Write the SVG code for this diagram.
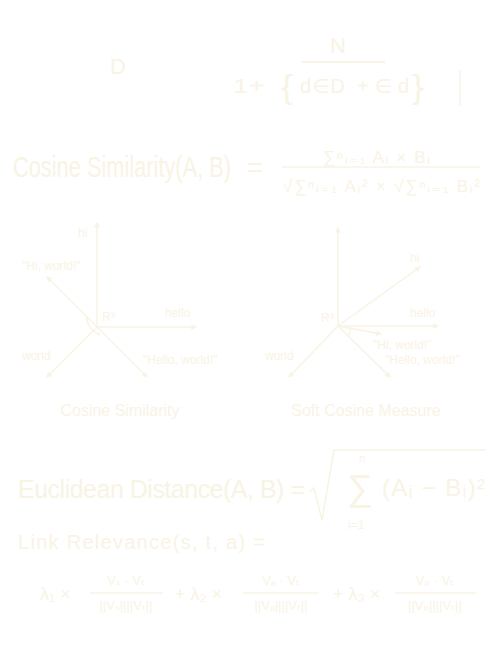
<svg xmlns="http://www.w3.org/2000/svg" width="500" height="650" viewBox="0 0 500 650">
<style>
text{font-family:"Liberation Sans","DejaVu Sans",sans-serif;fill:#f9f3e4}
.ln{stroke:#f9f3e4;stroke-width:2;fill:none}
.th{stroke:#f9f3e4;stroke-width:1.5;fill:none}
.lab{font-size:12px}
.cap{font-size:16px}
</style>
<defs>
<marker id="ah" viewBox="0 0 10 10" refX="8" refY="5" markerWidth="6" markerHeight="6" orient="auto" markerUnits="userSpaceOnUse">
<path d="M0,0 L10,5 L0,10 z" fill="#f9f3e4"/>
</marker>
</defs>
<rect width="500" height="650" fill="#ffffff"/>

<g id="idf">
<text x="110" y="74" font-size="22">D</text>
<text x="330" y="53" font-size="22">N</text>
<line x1="302" y1="62" x2="385" y2="62" class="ln" stroke-width="3"/>
<text x="233" y="93" font-size="20" textLength="32" lengthAdjust="spacingAndGlyphs">1+</text>
<text x="281" y="98" font-size="34" textLength="12" lengthAdjust="spacingAndGlyphs">{</text>
<text x="300" y="93" font-size="20" textLength="45" lengthAdjust="spacing">d ∈ D</text>
<text x="357" y="93" font-size="20" textLength="52" lengthAdjust="spacing">+ ∈ d</text>
<text x="412" y="98" font-size="34" textLength="12" lengthAdjust="spacingAndGlyphs">}</text>
<line x1="460" y1="70" x2="460" y2="106" class="th"/>
</g>

<g id="cosine-formula">
<text transform="translate(13,177) scale(0.727,1)" font-size="30">Cosine Similarity(A, B)</text>
<text x="247" y="177" font-size="28">=</text>
<text x="323" y="163" font-size="17" textLength="107" lengthAdjust="spacing">∑ⁿᵢ₌₁ Aᵢ × Bᵢ</text>
<line x1="282" y1="167" x2="480" y2="167" class="th"/>
<text x="283" y="192" font-size="17" textLength="197" lengthAdjust="spacing">√∑ⁿᵢ₌₁ Aᵢ² × √∑ⁿᵢ₌₁ Bᵢ²</text>
</g>

<g id="cosine-diagram">
<g class="connectors">
<line x1="97" y1="327" x2="97" y2="223" class="th" marker-end="url(#ah)"/>
<line x1="97" y1="327" x2="196" y2="327" class="th" marker-end="url(#ah)"/>
<line x1="97" y1="327" x2="47" y2="277" class="th" marker-end="url(#ah)"/>
<line x1="97" y1="327" x2="47" y2="377" class="th" marker-end="url(#ah)"/>
<line x1="97" y1="327" x2="147" y2="377" class="th" marker-end="url(#ah)"/>
<path d="M86,316 Q88,330 100,335" class="th"/>
</g>
<text x="78" y="237" class="lab">hi</text>
<text x="22" y="270" class="lab">"Hi, world!"</text>
<text x="102" y="321" class="lab">R³</text>
<text x="165" y="317" class="lab">hello</text>
<text x="22" y="360" class="lab">world</text>
<text x="143" y="364" class="lab">"Hello, world!"</text>
<text x="120" y="416" class="cap" text-anchor="middle">Cosine Similarity</text>
</g>

<g id="soft-cosine-diagram">
<g class="connectors">
<line x1="338" y1="326" x2="338" y2="228" class="th" marker-end="url(#ah)"/>
<line x1="338" y1="326" x2="420" y2="267" class="th" marker-end="url(#ah)"/>
<line x1="338" y1="326" x2="438" y2="326" class="th" marker-end="url(#ah)"/>
<line x1="338" y1="326" x2="381" y2="334" class="th" marker-end="url(#ah)"/>
<line x1="338" y1="326" x2="390" y2="377" class="th" marker-end="url(#ah)"/>
<line x1="338" y1="326" x2="289" y2="377" class="th" marker-end="url(#ah)"/>
<path d="M350,327 Q351,332 348,336" class="th"/>
</g>
<text x="410" y="262" class="lab">hi</text>
<text x="321" y="322" class="lab">R³</text>
<text x="410" y="317" class="lab">hello</text>
<text x="373" y="349" class="lab">"Hi, world!"</text>
<text x="385" y="364" class="lab">"Hello, world!"</text>
<text x="265" y="360" class="lab">world</text>
<text x="366" y="416" class="cap" text-anchor="middle">Soft Cosine Measure</text>
</g>

<g id="euclidean">
<text x="18" y="498" font-size="25" textLength="287" lengthAdjust="spacing">Euclidean Distance(A, B) =</text>
<path d="M310,492 L314,488 L322,520 L334,450 L486,450" class="th"/>
<text x="347" y="500" font-size="36">∑</text>
<text x="359" y="462" font-size="11">n</text>
<text x="348" y="529" font-size="12">i=1</text>
<text x="382" y="496" font-size="24" textLength="103" lengthAdjust="spacing">(Aᵢ − Bᵢ)²</text>
</g>

<g id="link-relevance">
<text x="18" y="549" font-size="20" textLength="247" lengthAdjust="spacing">Link Relevance(s, t, a) =</text>
<text x="40" y="600" font-size="18">λ₁ ×</text>
<text x="126" y="585" font-size="13" text-anchor="middle">Vₛ · Vₜ</text>
<line x1="90" y1="593" x2="163" y2="593" class="th"/>
<text x="126" y="610" font-size="13" text-anchor="middle">||Vₛ||||Vₜ||</text>
<text x="175" y="600" font-size="18">+ λ₂ ×</text>
<text x="281" y="585" font-size="13" text-anchor="middle">Vₐ · Vₜ</text>
<line x1="243" y1="593" x2="319" y2="593" class="th"/>
<text x="281" y="610" font-size="13" text-anchor="middle">||Vₐ||||Vₜ||</text>
<text x="333" y="600" font-size="18">+ λ₃ ×</text>
<text x="435" y="585" font-size="13" text-anchor="middle">Vₚ · Vₜ</text>
<line x1="395" y1="593" x2="476" y2="593" class="th"/>
<text x="435" y="610" font-size="13" text-anchor="middle">||Vₚ||||Vₜ||</text>
</g>
</svg>
